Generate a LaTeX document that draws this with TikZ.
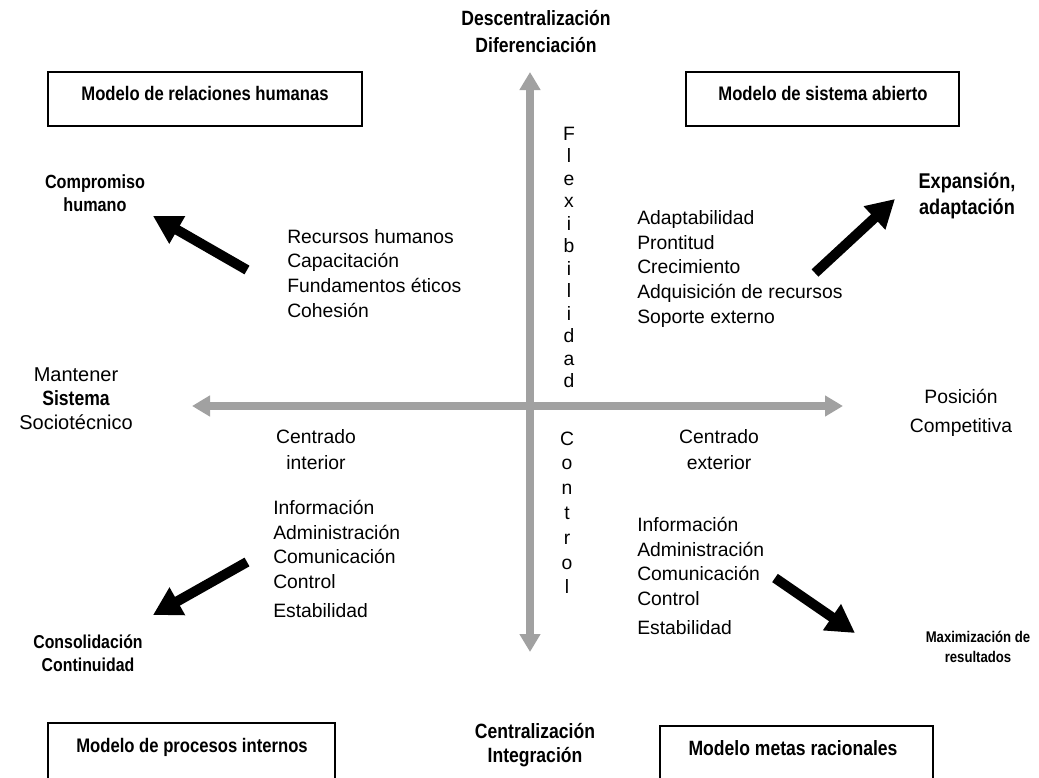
\documentclass[tikz,border=0pt]{standalone}
\usepackage{fontspec}
\setmainfont{Liberation Sans}
\newfontfamily\condfont[FakeStretch=0.85]{Liberation Sans}
\usetikzlibrary{arrows.meta}

\begin{document}
\begin{tikzpicture}[x=0.75pt,y=-0.75pt]
    \tikzstyle{modelbox}=[draw, line width=1pt, minimum height=40.5pt, inner sep=0pt]
    \tikzstyle{boxtitle}=[font=\condfont\bfseries\fontsize{14.7}{18}\selectfont, inner sep=0pt]
    \tikzstyle{plain}=[font=\fontsize{14.5}{18.4}\selectfont, align=left, inner sep=0pt]
    \tikzstyle{heavy}=[font=\condfont\bfseries\fontsize{15}{18}\selectfont, align=center, inner sep=0pt]
    \tikzstyle{axis}=[line width=6pt, draw=black!37,
                      {Triangle[length=13.5pt,width=15pt]}-{Triangle[length=13.5pt,width=15pt]}]
    \tikzstyle{trend}=[line width=7.5pt, -{Triangle[length=21pt,width=22.5pt]}]

    \useasboundingbox (0,0) rectangle (1039,778);
    \clip (0,0) rectangle (1039,778);

    % Axes
    \coordinate (west) at (192,406);
    \coordinate (east) at (843,406);
    \coordinate (north) at (530,72);
    \coordinate (south) at (530,652);
    \draw [axis] (west) -- (east);
    \draw [axis] (south) -- (north);

    % Axis ends
    \node [heavy, font=\condfont\bfseries\fontsize{15.5}{20}\selectfont] (desc) at (536,31.5)
          {Descentralización\\Diferenciación};
    \node [heavy, font=\condfont\bfseries\fontsize{15.5}{18}\selectfont] (cent) at (535,745)
          {Centralización\\Integración};
    \node [plain, align=center, font=\fontsize{15}{18}\selectfont] (mant) at (76,399)
          {Mantener\\{\condfont\bfseries\fontsize{15.5}{18}\selectfont Sistema}\\Sociotécnico};
    \node [plain, align=center, font=\fontsize{14.5}{21.7}\selectfont] (posc) at (961,412.5)
          {Posición\\Competitiva};

    % Letters along the vertical axis
    \foreach \ch [count=\i] in {F,l,e,x,i,b,i,l,i,d,a,d}
        \node [plain, anchor=base] (flex\i) at (569,{140+(\i-1)*22.5}) {\ch};
    \foreach \ch [count=\i] in {C,o,n,t,r,o,l}
        \node [plain, anchor=base] (ctrl\i) at (567,{445+(\i-1)*24.8}) {\ch};

    % Model boxes
    \node [modelbox, minimum width=235.5pt] (boxrh) at (205,99) {};
    \node [boxtitle] (titlerh) at (205,93) {Modelo de relaciones humanas};
    \node [modelbox, minimum width=204.75pt] (boxsa) at (822.5,99) {};
    \node [boxtitle] (titlesa) at (823,93) {Modelo de sistema abierto};
    \node [modelbox, minimum width=215.25pt, minimum height=45pt] (boxpi) at (191.5,753) {};
    \node [boxtitle] (titlepi) at (192,747) {Modelo de procesos internos};
    \node [modelbox, minimum width=204.75pt, minimum height=45pt] (boxmr) at (796.5,756) {};
    \node [boxtitle, font=\condfont\bfseries\fontsize{15.5}{18}\selectfont] (titlemr) at (793,748)
          {Modelo metas racionales};

    % Quadrant items (base = last line)
    \node [plain, anchor=base west] (itemsrh) at (287,317)
          {Recursos humanos\\Capacitación\\Fundamentos éticos\\Cohesión};
    \node [plain, anchor=base west, font=\fontsize{14.5}{18.5}\selectfont] (itemssa) at (637,323)
          {Adaptabilidad\\Prontitud\\Crecimiento\\Adquisición de recursos\\Soporte externo};
    \node [plain, anchor=base west] (itemspi) at (273,617)
          {Información\\Administración\\Comunicación\\Control\\[3pt]Estabilidad};
    \node [plain, anchor=base west] (itemsmr) at (637,634)
          {Información\\Administración\\Comunicación\\Control\\[3pt]Estabilidad};
    \node [plain, align=center, font=\fontsize{14.5}{19.5}\selectfont] (cint) at (316,450)
          {Centrado\\interior};
    \node [plain, align=center, font=\fontsize{14.5}{19.5}\selectfont] (cext) at (719,450)
          {Centrado\\exterior};

    % Outcomes
    \node [heavy, font=\condfont\bfseries\fontsize{14.3}{17.3}\selectfont] (comp) at (95,193.5)
          {Compromiso\\humano};
    \node [heavy, font=\condfont\bfseries\fontsize{16}{19}\selectfont] (expa) at (967,196)
          {Expansión,\\adaptación};
    \node [heavy, font=\condfont\bfseries\fontsize{14}{17.3}\selectfont] (cons) at (88,653.5)
          {Consolidación\\Continuidad};
    \node [heavy, font=\condfont\bfseries\fontsize{11.6}{15}\selectfont] (maxi) at (978,647)
          {Maximización de\\resultados};

    % Trend arrows
    \coordinate (rhtail) at (247,270);
    \coordinate (rhtip) at (153,216);
    \coordinate (satail) at (815,273);
    \coordinate (satip) at (895,199);
    \coordinate (pitail) at (247,562);
    \coordinate (pitip) at (153,615);
    \coordinate (mrtail) at (775,578);
    \coordinate (mrtip) at (855,633);
    \draw [trend] (rhtail) -- (rhtip);
    \draw [trend] (satail) -- (satip);
    \draw [trend] (pitail) -- (pitip);
    \draw [trend] (mrtail) -- (mrtip);
\end{tikzpicture}
\end{document}
